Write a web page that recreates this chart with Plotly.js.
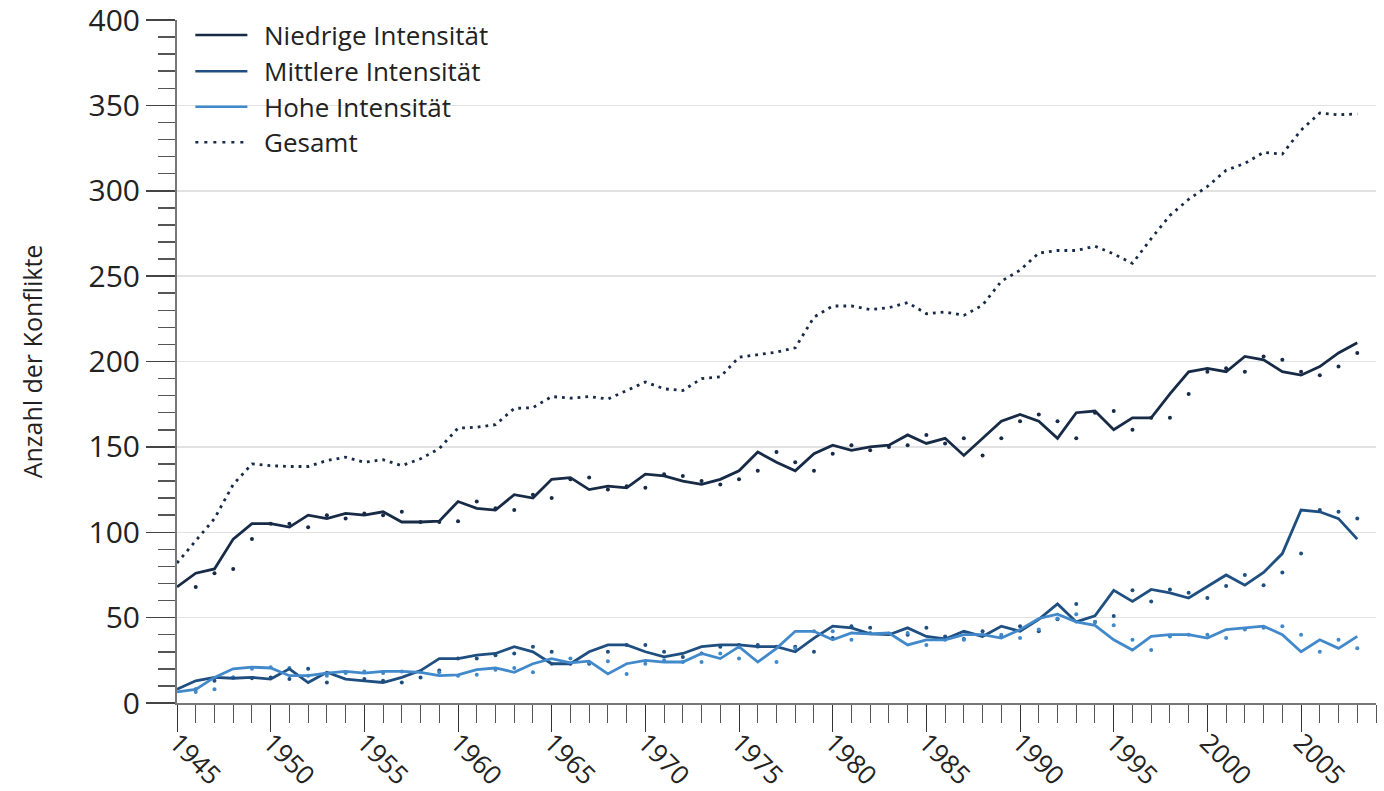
<!DOCTYPE html>
<html>
<head>
<meta charset="utf-8">
<script src="https://cdn.plot.ly/plotly-3.0.1.min.js"></script>
<style>
html,body{margin:0;padding:0;background:#ffffff;}
#chart{width:1384px;height:791px;}
</style>
</head>
<body>
<div id="chart"></div>
<script>
// ---- data ----
const years = [1945,1946,1947,1948,1949,1950,1951,1952,1953,1954,1955,1956,1957,1958,1959,
  1960,1961,1962,1963,1964,1965,1966,1967,1968,1969,1970,1971,1972,1973,1974,1975,1976,
  1977,1978,1979,1980,1981,1982,1983,1984,1985,1986,1987,1988,1989,1990,1991,1992,1993,
  1994,1995,1996,1997,1998,1999,2000,2001,2002,2003,2004,2005,2006,2007,2008];

const niedrig = [68,76,78.5,96,105,105,103,110,108,111,110,112,106,106,106.5,
  118,114,113,122,120,131,132,125,127,126,134,133,130,128,131,136,147,
  141,136,146,151,148,150,151,157,152,155,145,155,165,169,165,155,170,
  171,160,167,167,181,194,196,194,203,201,194,192,197,205,211];

const mittel = [8,13,15,14.5,15,14,20,12,18,14,13,12,15,19,26,
  26,28,29,33,30,23,23,30,34,34,30,27,29,33,34,34,33,
  33,30,38,45,44,40.5,40,44,39,37.5,42,39,45,42,49,58,47.5,
  51,66,59.5,66.5,64.5,61.5,68.5,75,69,76.5,87.5,113,112,108,96];

const hoch = [6.5,8,15,20,21,20.5,16,16,17.5,18.5,17.5,18.5,18.5,18,16,
  16.5,19.5,20.5,18,23,26,23.5,24.5,17,23,25,24,24,29,26,33,24,
  32,42,42,37,41,40.5,41,34,37,37,40,40,38,43,49.5,52,47.5,
  45.5,37,31,39,40,40,38,43,44,45,40,30,37,32,39];

const gesamt = [82,95,108,128,140,139,138.5,138.5,142,144,141,142.5,139,143,149,
  161,161.5,163,172.5,173,179.5,178.5,179.5,178,183,188,184,183,190,191,202.5,204,
  205.5,208,226,232.5,232.5,230.5,231.5,234.5,228,229,227,233,247,253.5,263.5,265,265,
  267.5,263,257.5,272,285.5,295,302.5,312,316,322.5,321.5,335.5,345.5,344.5,345];

const yTickVals = [0,50,100,150,200,250,300,350,400];
const xTickVals = [1945,1950,1955,1960,1965,1970,1975,1980,1985,1990,1995,2000,2005];

const seriesNames = ['Niedrige Intensität','Mittlere Intensität','Hohe Intensität','Gesamt'];
const yTitle = 'Anzahl der Konflikte';

// ---- styles ----
const C_LOW = '#172a46', C_MID = '#1f4f80', C_HIGH = '#4189cb', C_TOT = '#172a46';
const FONT = 'Open Sans, Noto Sans, sans-serif';

function lineTrace(y, color, dash, width) {
  return {x: years, y: y, type: 'scatter', mode: 'lines',
    line: {color: color, width: width, dash: dash}, hoverinfo: 'x+y', showlegend: false};
}
// small markers that trail each intensity series by one year, as in the reference
function trailTrace(y, color) {
  return {x: years.slice(1), y: y.slice(0, -1), type: 'scatter', mode: 'markers',
    marker: {color: color, size: 4}, hoverinfo: 'skip', showlegend: false};
}

const data = [
  trailTrace(niedrig, C_LOW),
  trailTrace(mittel, C_MID),
  trailTrace(hoch, C_HIGH),
  lineTrace(gesamt, C_TOT, '2.8px,5px', 2.8),
  lineTrace(niedrig, C_LOW, 'solid', 2.8),
  lineTrace(mittel, C_MID, 'solid', 2.8),
  lineTrace(hoch, C_HIGH, 'solid', 2.8)
];

// ---- manual legend (line samples + text) ----
const legColors = [C_LOW, C_MID, C_HIGH, C_TOT];
const legY = [0.978, 0.925, 0.873, 0.821];
const shapes = [], annotations = [];
for (let i = 0; i < seriesNames.length; i++) {
  shapes.push({type: 'line', xref: 'paper', yref: 'paper', x0: 0.0153, x1: 0.0587,
    y0: legY[i], y1: legY[i],
    line: {color: legColors[i], width: 2.5, dash: i === 3 ? '3px,6px' : 'solid'}});
  annotations.push({xref: 'paper', yref: 'paper', x: 0.0711, y: legY[i], xanchor: 'left',
    yanchor: 'middle', text: seriesNames[i], showarrow: false,
    font: {family: FONT, size: 26, color: '#222'}});
}

const layout = {
  width: 1384, height: 791,
  margin: {l: 177, r: 8, t: 20, b: 88, pad: 0},
  paper_bgcolor: '#ffffff', plot_bgcolor: '#ffffff',
  showlegend: false,
  font: {family: FONT, color: '#222'},
  xaxis: {
    range: [1945, 2009], tickmode: 'array', tickvals: xTickVals,
    ticks: 'outside', ticklen: 27, tickwidth: 1, tickcolor: '#333',
    showgrid: false, zeroline: false, showline: true, linecolor: '#777', linewidth: 2,
    tickangle: 45, tickfont: {family: FONT, size: 26, color: '#222'},
    ticklabelstandoff: -15, ticklabeloverflow: 'allow',
    minor: {tick0: 1945, dtick: 1, ticks: 'outside', ticklen: 18, tickwidth: 1, tickcolor: '#555', showgrid: false},
    automargin: false, fixedrange: true
  },
  yaxis: {
    range: [0, 400], tickmode: 'array', tickvals: yTickVals,
    ticks: 'outside', ticklen: 29, tickwidth: 1.5, tickcolor: '#444',
    showgrid: true, gridcolor: '#e2e2e2', gridwidth: 1.5,
    zeroline: false, showline: true, linecolor: '#777', linewidth: 2,
    tickfont: {family: FONT, size: 30, color: '#222'},
    ticklabeloverflow: 'allow',
    minor: {tick0: 0, dtick: 10, ticks: 'outside', ticklen: 17, tickwidth: 1.5, tickcolor: '#555', showgrid: false},
    title: {text: yTitle, font: {family: FONT, size: 25, color: '#222'}, standoff: 39},
    automargin: false, fixedrange: true
  },
  shapes: shapes,
  annotations: annotations
};

Plotly.newPlot('chart', data, layout, {displayModeBar: false, staticPlot: true});
</script>
</body>
</html>
